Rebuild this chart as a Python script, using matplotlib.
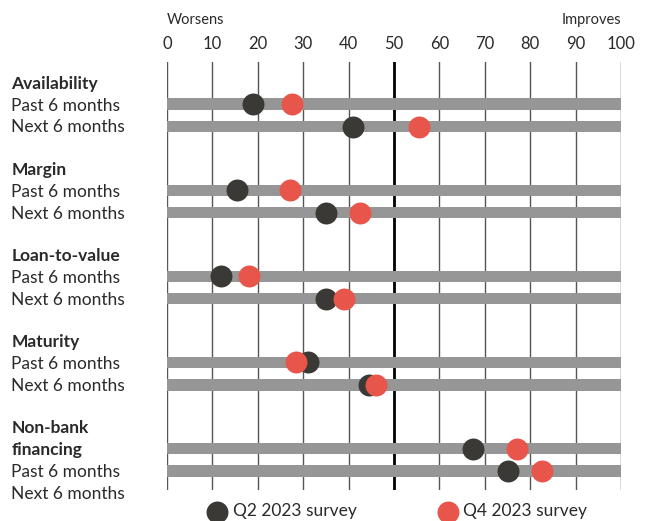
import matplotlib
matplotlib.use("Agg")
import matplotlib.pyplot as plt

# survey balance scores (0 = worsens, 100 = improves)
groups = [["Availability"], ["Margin"], ["Loan-to-value"], ["Maturity"], ["Non-bank", "financing"]]
q2_past = [19, 15.5, 12, 31, 67.5]
q2_next = [41, 35, 35, 44.5, 75]
q4_past = [27.5, 27, 18, 28.5, 77]
q4_next = [55.5, 42.5, 39, 46, 82.5]
ticks = list(range(0, 101, 10))

BLACK = "#3a3935"
RED = "#e8554a"
BAR = "#969696"
TXT = "#2a2a2a"

plt.rcParams['font.family'] = ['Lato', 'DejaVu Sans']

fig = plt.figure(figsize=(6.45, 5.21), dpi=100)
ax = fig.add_axes([0.2589, 0.0595, 0.7039, 0.8215])

gap = 3.83
for g in range(len(groups)):
    y0 = g * gap
    ax.barh([y0, y0 + 1], [100, 100], height=0.5, color=BAR, zorder=2)
    ax.scatter([q2_past[g], q2_next[g]], [y0, y0 + 1], s=250, color=BLACK, zorder=3, linewidths=0)
    ax.scatter([q4_past[g], q4_next[g]], [y0, y0 + 1], s=250, color=RED, zorder=4, linewidths=0)
    # row labels on the left
    lines = groups[g] + ["Past 6 months", "Next 6 months"]
    for i, t in enumerate(lines):
        bold = i < len(groups[g])
        ax.text(-34.3, y0 - 0.9 + i * 0.97, t, fontsize=12.5, va="center", ha="left",
                fontweight="bold" if bold else "normal", color=TXT, clip_on=False)

for t in ticks:
    if t == 50:
        ax.axvline(t, color="black", lw=2, zorder=1)
    else:
        ax.axvline(t, color="#555555", lw=1, zorder=1)

ax.set_xlim(0, 100)
ax.set_ylim(17.16, -1.87)
ax.set_xticks(ticks)
ax.xaxis.tick_top()
ax.tick_params(axis="x", length=0, pad=7, labelsize=12, colors=TXT)
ax.set_yticks([])
for s in ax.spines.values():
    s.set_visible(False)

fig.text(0.2589, 0.962, "Worsens", fontsize=10.5, ha="left", va="center", color=TXT)
fig.text(0.9628, 0.962, "Improves", fontsize=10.5, ha="right", va="center", color=TXT)

h1 = ax.scatter([], [], s=250, color=BLACK, linewidths=0, label="Q2 2023 survey")
h2 = ax.scatter([], [], s=250, color=RED, linewidths=0, label="Q4 2023 survey")
leg = fig.legend(handles=[h1, h2], loc="center", bbox_to_anchor=(0.6153, 0.019), ncol=2,
                 frameon=False, fontsize=12.5, handletextpad=0.3, columnspacing=4.65,
                 borderpad=0, handlelength=1.2)
for t in leg.get_texts():
    t.set_color(TXT)

fig.savefig("out.png", dpi=100)
